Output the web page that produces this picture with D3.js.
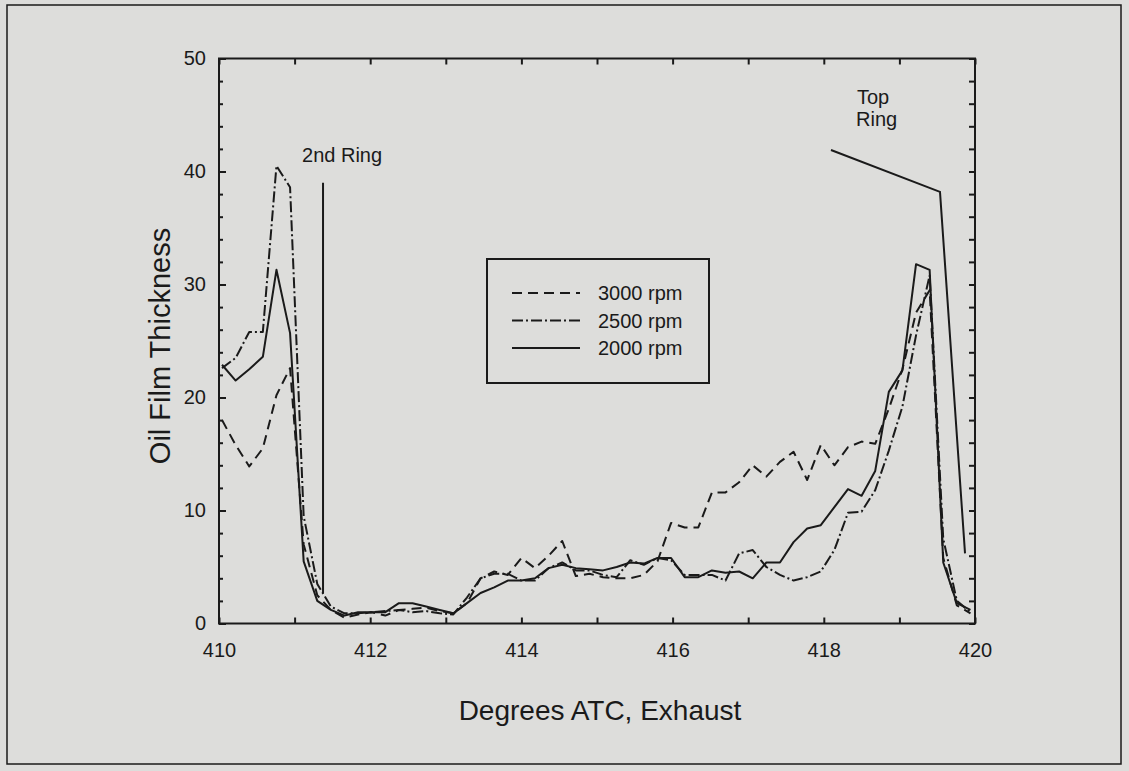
<!DOCTYPE html>
<html>
<head>
<meta charset="utf-8">
<script src="https://cdn.jsdelivr.net/npm/d3@7"></script>
<style>
  html, body { margin: 0; padding: 0; background: #dddddb; }
  svg { display: block; }
  text { font-family: "Liberation Sans", Arial, Helvetica, sans-serif; fill: #1a1a1a; }
</style>
</head>
<body>
<svg id="chart" width="1129" height="771"></svg>
<script>
// ---------------- data ----------------
const xValues = [410.04, 410.22, 410.40, 410.58, 410.76, 410.94, 411.12, 411.30, 411.48, 411.66,
  411.84, 412.02, 412.20, 412.38, 412.56, 412.74, 412.92, 413.10, 413.28, 413.46,
  413.64, 413.82, 414.00, 414.18, 414.36, 414.54, 414.72, 414.90, 415.08, 415.26,
  415.44, 415.62, 415.80, 415.98, 416.16, 416.34, 416.52, 416.70, 416.88, 417.06,
  417.24, 417.42, 417.60, 417.78, 417.96, 418.14, 418.32, 418.50, 418.68, 418.86,
  419.04, 419.22, 419.40, 419.58, 419.76, 419.94];

const rpm3000 = [18.0, 15.8, 13.9, 15.5, 20.2, 22.6, 7.0, 2.5, 1.2, 0.5,
  0.8, 1.0, 0.7, 1.2, 1.3, 1.4, 1.1, 0.9, 1.8, 4.0,
  4.6, 4.3, 5.8, 4.9, 6.0, 7.3, 4.2, 4.4, 4.1, 4.0,
  4.0, 4.3, 5.5, 8.9, 8.5, 8.5, 11.6, 11.6, 12.5, 14.0,
  13.0, 14.3, 15.2, 12.7, 15.8, 14.0, 15.6, 16.1, 15.9, 19.0,
  22.5, 27.5, 29.5, 5.8, 1.6, 0.9];

const rpm2500 = [22.6, 23.5, 25.8, 25.8, 40.5, 38.6, 9.5, 3.5, 1.5, 0.9,
  0.9, 1.0, 1.1, 1.2, 1.0, 1.1, 0.9, 0.8, 2.3, 4.0,
  4.4, 4.4, 3.8, 3.8, 4.9, 5.4, 4.7, 4.7, 4.3, 4.1,
  5.6, 5.2, 5.8, 5.6, 4.3, 4.3, 4.3, 3.8, 6.2, 6.5,
  5.0, 4.3, 3.8, 4.1, 4.6, 6.5, 9.8, 9.9, 11.8, 15.3,
  19.2, 25.5, 30.8, 7.5, 2.0, 1.0];

const rpm2000 = [22.9, 21.5, 22.5, 23.6, 31.3, 25.7, 5.5, 2.0, 1.2, 0.7,
  1.0, 1.0, 1.0, 1.8, 1.8, 1.5, 1.2, 0.9, 1.8, 2.7,
  3.2, 3.8, 3.8, 4.0, 4.9, 5.2, 4.9, 4.8, 4.7, 5.0,
  5.4, 5.3, 5.8, 5.8, 4.1, 4.1, 4.7, 4.5, 4.6, 4.0,
  5.4, 5.4, 7.2, 8.4, 8.7, 10.3, 11.9, 11.3, 13.5, 20.5,
  22.4, 31.8, 31.3, 5.4, 1.8, 1.2];

const seriesNames = ["3000 rpm", "2500 rpm", "2000 rpm"];
const xTicks = [410, 411, 412, 413, 414, 415, 416, 417, 418, 419, 420];
const xTickLabels = [410, 412, 414, 416, 418, 420];
const yTicks = [0, 10, 20, 30, 40, 50];
const yMinorTicks = [0, 2, 4, 6, 8, 10, 12, 14, 16, 18, 20, 22, 24, 26, 28, 30, 32, 34, 36, 38, 40, 42, 44, 46, 48, 50];

const secondRingX = [411.376, 411.376];
const secondRingY = [39.0, 2.7];
const topRingX = [418.095, 419.537, 419.868];
const topRingY = [41.9, 38.2, 6.2];

// ---------------- drawing ----------------
const svg = d3.select("#chart");
const ink = "#1a1a1a";

// outer frame
svg.append("rect").attr("x", 7).attr("y", 5).attr("width", 1114).attr("height", 759)
  .attr("fill", "none").attr("stroke", ink).attr("stroke-width", 1.5);

const xScale = d3.scaleLinear().domain([410, 420]).range([219, 975]);
const yScale = d3.scaleLinear().domain([0, 50]).range([623.5, 58.5]);

const g = svg.append("g");

// axes ticks (inward)
const axLeftMinor = g.append("g").attr("transform", `translate(${xScale(410)},0)`)
  .call(d3.axisLeft(yScale).tickValues(yMinorTicks).tickSize(-4).tickFormat(""));
const axLeftMajor = g.append("g").attr("transform", `translate(${xScale(410)},0)`)
  .call(d3.axisLeft(yScale).tickValues(yTicks).tickSize(-7).tickPadding(13).tickFormat(d3.format("d")));
const axRight = g.append("g").attr("transform", `translate(${xScale(420)},0)`)
  .call(d3.axisRight(yScale).tickValues(yMinorTicks).tickSize(-6).tickFormat(""));
const axBottom = g.append("g").attr("transform", `translate(0,${yScale(0)})`)
  .call(d3.axisBottom(xScale).tickValues(xTicks).tickSize(-6).tickPadding(19.5)
    .tickFormat(d => xTickLabels.includes(d) ? d3.format("d")(d) : ""));
const axTop = g.append("g").attr("transform", `translate(0,${yScale(50)})`)
  .call(d3.axisTop(xScale).tickValues(xTicks).tickSize(-6).tickFormat(""));

[axLeftMinor, axLeftMajor, axRight, axBottom, axTop].forEach(a => {
  a.select(".domain").remove();
  a.selectAll("line").attr("stroke", ink).attr("stroke-width", 2);
  a.selectAll("text").attr("font-size", 20).attr("fill", ink)
    .attr("font-family", "'Liberation Sans', Arial, sans-serif");
});

// plot frame
g.append("rect").attr("x", xScale(410)).attr("y", yScale(50))
  .attr("width", xScale(420) - xScale(410)).attr("height", yScale(0) - yScale(50))
  .attr("fill", "none").attr("stroke", ink).attr("stroke-width", 2);

// series
const dashes = ["10,6", "11,3,2,3", null];
const seriesData = [rpm3000, rpm2500, rpm2000];
const line = d3.line().x(d => xScale(d[0])).y(d => yScale(d[1]));
seriesData.forEach((vals, k) => {
  const pts = xValues.map((xv, i) => [xv, vals[i]]);
  g.append("path").datum(pts).attr("d", line)
    .attr("fill", "none").attr("stroke", ink).attr("stroke-width", 2)
    .attr("stroke-linejoin", "round")
    .attr("stroke-dasharray", dashes[k]);
});

// annotations
g.append("path").datum(secondRingX.map((v, i) => [v, secondRingY[i]])).attr("d", line)
  .attr("fill", "none").attr("stroke", ink).attr("stroke-width", 2);
g.append("text").attr("x", xScale(411.376) - 21).attr("y", yScale(40.8)).attr("font-size", 20).text("2nd Ring");

g.append("path").datum(topRingX.map((v, i) => [v, topRingY[i]])).attr("d", line)
  .attr("fill", "none").attr("stroke", ink).attr("stroke-width", 2);
g.append("text").attr("x", 857).attr("y", 104).attr("font-size", 20).text("Top");
g.append("text").attr("x", 856).attr("y", 126).attr("font-size", 20).text("Ring");

// legend
const lg = g.append("g");
lg.append("rect").attr("x", 487).attr("y", 259).attr("width", 222).attr("height", 124)
  .attr("fill", "none").attr("stroke", ink).attr("stroke-width", 2);
seriesNames.forEach((name, k) => {
  const yy = 293 + k * 27.5;
  lg.append("line").attr("x1", 512).attr("x2", 580).attr("y1", yy).attr("y2", yy)
    .attr("stroke", ink).attr("stroke-width", 2).attr("stroke-dasharray", dashes[k]);
  lg.append("text").attr("x", 598).attr("y", yy).attr("dy", "0.35em").attr("font-size", 20).text(name);
});

// axis titles
svg.append("text").attr("x", 600).attr("y", 720).attr("text-anchor", "middle")
  .attr("font-size", 28).text("Degrees ATC, Exhaust");
svg.append("text").attr("transform", "translate(170,346) rotate(-90)").attr("text-anchor", "middle")
  .attr("font-size", 29).text("Oil Film Thickness");
</script>
</body>
</html>
